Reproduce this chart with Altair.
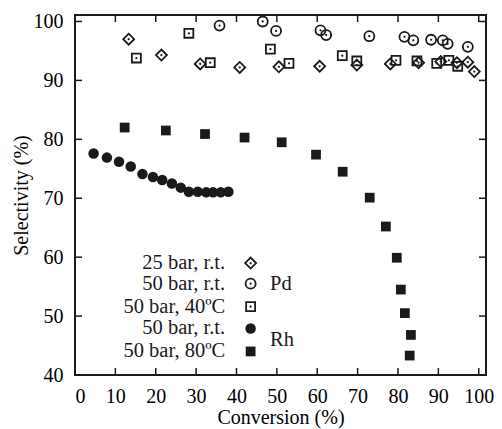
import altair as alt
import pandas as pd

# ---- data ----
pd25_x = [13.3, 21.4, 31.0, 40.8, 50.5, 60.6, 69.8, 78.1, 85.1, 90.6, 94.6, 97.3, 98.9]
pd25_y = [97.0, 94.3, 92.8, 92.2, 92.3, 92.4, 92.6, 92.8, 93.0, 93.2, 93.0, 93.1, 91.5]

pd50_x = [35.8, 46.5, 49.8, 60.8, 62.2, 72.9, 81.6, 83.8, 88.2, 91.1, 92.3, 97.3]
pd50_y = [99.3, 100.0, 98.4, 98.5, 97.7, 97.5, 97.4, 96.8, 96.9, 96.8, 96.2, 95.7]

pd40_x = [15.2, 28.2, 33.5, 48.4, 53.0, 66.2, 69.8, 79.5, 84.7, 89.6, 92.6, 94.8]
pd40_y = [93.8, 98.0, 93.0, 95.3, 92.9, 94.2, 93.3, 93.4, 93.3, 92.9, 93.4, 92.4]

rh50_x = [4.6, 7.9, 10.9, 13.8, 16.7, 19.3, 21.6, 24.0, 26.2, 28.2, 30.4, 32.5, 34.2, 36.1, 38.0]
rh50_y = [77.6, 76.9, 76.2, 75.4, 74.1, 73.6, 73.1, 72.5, 71.8, 71.1, 71.1, 71.0, 71.0, 71.0, 71.1]

rh80_x = [12.3, 22.5, 32.2, 42.0, 51.2, 59.7, 66.3, 73.0, 77.0, 79.7, 80.7, 81.7, 83.2, 82.9]
rh80_y = [82.0, 81.5, 80.9, 80.3, 79.5, 77.4, 74.5, 70.1, 65.2, 59.9, 54.5, 50.5, 46.8, 43.3]

x_ticks = [0, 10, 20, 30, 40, 50, 60, 70, 80, 90, 100]
y_ticks = [40, 50, 60, 70, 80, 90, 100]

legend_labels = ["25 bar, r.t.", "50 bar, r.t.", "50 bar, 40ºC", "50 bar, r.t.", "50 bar, 80ºC"]
legend_y = [59.0, 55.5, 51.6, 47.9, 44.0]
legend_text_x = 37.2
legend_sym_x = 43.5
group_labels = ["Pd", "Rh"]
group_y = [55.4, 45.9]
group_x = 48.3

W, H = 411, 360
FONT = "Liberation Serif"
INK = "#1a1a1a"

xs = alt.Scale(domain=[0, 101.8], nice=False, zero=False)
ys = alt.Scale(domain=[40, 101.1], nice=False, zero=False)
xaxis = alt.Axis(values=x_ticks, title="Conversion (%)", labelPadding=11, titlePadding=1)
yaxis = alt.Axis(values=y_ticks, title="Selectivity (%)", labelPadding=12, titlePadding=2)


def enc(df):
    return alt.Chart(df).encode(
        x=alt.X("x:Q", scale=xs, axis=xaxis),
        y=alt.Y("y:Q", scale=ys, axis=yaxis),
    )


def df(xv, yv):
    return pd.DataFrame({"x": xv, "y": yv})


def open_series(xv, yv, shape, size):
    d = df(xv, yv)
    outer = enc(d).mark_point(shape=shape, filled=False, size=size, stroke=INK, strokeWidth=1.8, opacity=1)
    dot = enc(d).mark_point(shape="circle", filled=True, size=5, color=INK, opacity=1)
    return [outer, dot]


def filled_series(xv, yv, shape, size):
    d = df(xv, yv)
    return [enc(d).mark_point(shape=shape, filled=True, size=size, color=INK, opacity=1)]


layers = []
layers += open_series(pd25_x, pd25_y, "diamond", 120)
layers += open_series(pd50_x, pd50_y, "circle", 100)
layers += open_series(pd40_x, pd40_y, "square", 80)
layers += filled_series(rh50_x, rh50_y, "circle", 110)
layers += filled_series(rh80_x, rh80_y, "square", 95)

# legend (manual, labels left of symbols as in the reference)
leg_df = pd.DataFrame({"x": [legend_text_x] * 5, "y": legend_y, "t": legend_labels})
layers.append(enc(leg_df).mark_text(align="right", baseline="middle", font=FONT, fontSize=20.5, color=INK).encode(text="t:N"))
layers += open_series([legend_sym_x], [legend_y[0]], "diamond", 120)
layers += open_series([legend_sym_x], [legend_y[1]], "circle", 100)
layers += open_series([legend_sym_x], [legend_y[2]], "square", 80)
layers += filled_series([legend_sym_x], [legend_y[3]], "circle", 110)
layers += filled_series([legend_sym_x], [legend_y[4]], "square", 95)
grp_df = pd.DataFrame({"x": [group_x] * 2, "y": group_y, "t": group_labels})
layers.append(enc(grp_df).mark_text(align="left", baseline="middle", font=FONT, fontSize=20.5, color=INK).encode(text="t:N"))

# inward ticks on all four sides
xt = pd.DataFrame({"t": x_ticks[1:]})
yt = pd.DataFrame({"t": y_ticks[1:]})
TL = 7
layers.append(alt.Chart(xt).mark_rule(color=INK, strokeWidth=1.5).encode(
    x=alt.X("t:Q", scale=xs, axis=xaxis), y=alt.value(H), y2=alt.value(H - TL)))
layers.append(alt.Chart(xt).mark_rule(color=INK, strokeWidth=1.5).encode(
    x=alt.X("t:Q", scale=xs, axis=xaxis), y=alt.value(0), y2=alt.value(TL)))
layers.append(alt.Chart(yt).mark_rule(color=INK, strokeWidth=1.5).encode(
    y=alt.Y("t:Q", scale=ys, axis=yaxis), x=alt.value(0), x2=alt.value(TL)))
layers.append(alt.Chart(yt).mark_rule(color=INK, strokeWidth=1.5).encode(
    y=alt.Y("t:Q", scale=ys, axis=yaxis), x=alt.value(W), x2=alt.value(W - TL)))

chart = alt.layer(*layers).properties(
    width=W, height=H,
    autosize=alt.AutoSizeParams(type="none"),
    padding={"left": 67, "top": 7, "right": 8, "bottom": 54},
).configure_view(
    stroke=INK, strokeWidth=2
).configure_axis(
    labelFont=FONT, labelFontSize=20, labelColor="black",
    titleFont=FONT, titleFontSize=20, titleFontWeight="normal", titleColor="black",
    ticks=False, domain=False, grid=False,
)

chart.save("out.html", embed_options={"renderer": "svg", "actions": False})
